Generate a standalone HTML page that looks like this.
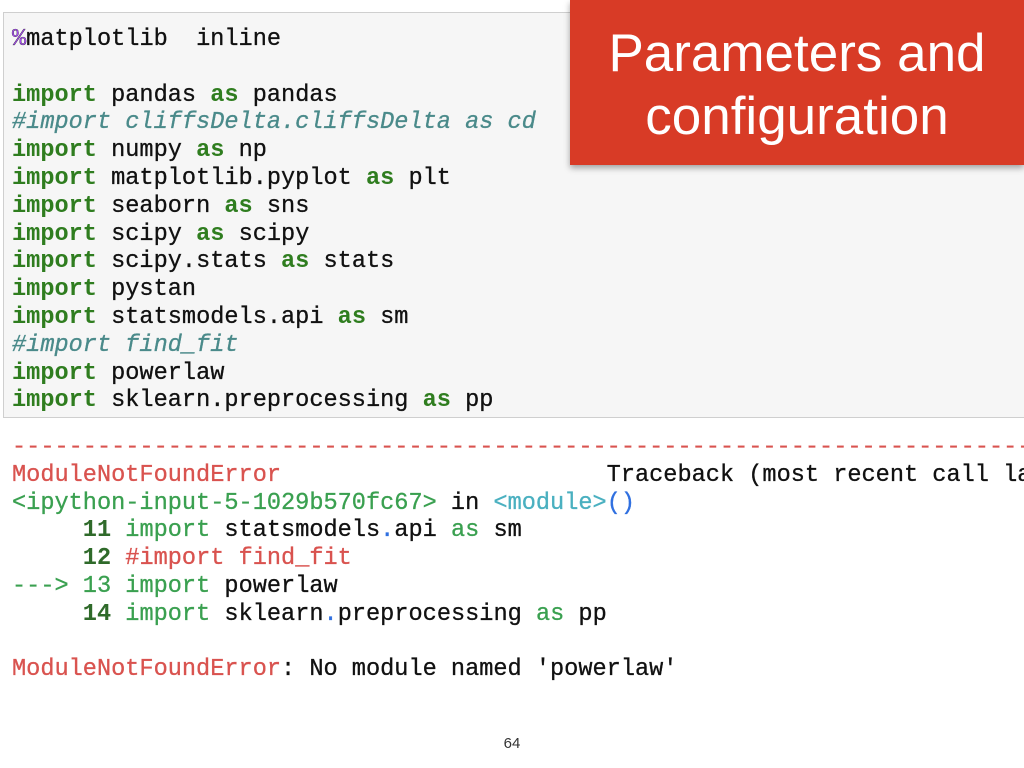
<!DOCTYPE html>
<html><head><meta charset="utf-8"><style>
body{margin:0;width:1024px;height:768px;background:#fff;position:relative;overflow:hidden;font-family:"Liberation Mono",monospace;}
.code{position:absolute;left:3px;top:12px;width:1030px;height:406px;background:#f6f6f6;border:1px solid #cfcfcf;box-sizing:border-box;}
pre{margin:0;position:absolute;font-family:"Liberation Mono",monospace;font-size:23.6px;line-height:27.8px;color:#111;white-space:pre;-webkit-text-stroke:0.3px #111;}
.k{color:#2f7d1f;font-weight:bold;-webkit-text-stroke:0}.c{color:#4a8a8a;font-style:italic;-webkit-text-stroke:0.3px #4a8a8a}.m{color:#a64cf0}
.r{color:#d9534f;-webkit-text-stroke:0.3px #d9534f}.g{color:#3aa050;-webkit-text-stroke:0.3px #3aa050}.gb{color:#2f6a2a;font-weight:bold;-webkit-text-stroke:0}.cy{color:#4ab0c0;-webkit-text-stroke:0.3px #4ab0c0}.b{color:#3070e0;-webkit-text-stroke:0.3px #3070e0}
.red{position:absolute;left:570px;top:0;width:454px;height:165px;background:#d83b26;box-shadow:0 3px 6px rgba(0,0,0,.35);color:#fff;font-family:"Liberation Sans",sans-serif;font-size:53px;line-height:63px;text-align:center;padding-top:22px;box-sizing:border-box;}
.pn{position:absolute;left:0;width:1024px;top:735px;text-align:center;font-family:"Liberation Sans",sans-serif;font-size:15px;color:#333}
</style></head><body>
<div class="code"></div>
<pre style="left:12px;top:26px"><span class="m">%</span>matplotlib  inline

<span class="k">import</span> pandas <span class="k">as</span> pandas
<span class="c">#import cliffsDelta.cliffsDelta as cd</span>
<span class="k">import</span> numpy <span class="k">as</span> np
<span class="k">import</span> matplotlib.pyplot <span class="k">as</span> plt
<span class="k">import</span> seaborn <span class="k">as</span> sns
<span class="k">import</span> scipy <span class="k">as</span> scipy
<span class="k">import</span> scipy.stats <span class="k">as</span> stats
<span class="k">import</span> pystan
<span class="k">import</span> statsmodels.api <span class="k">as</span> sm
<span class="c">#import find_fit</span>
<span class="k">import</span> powerlaw
<span class="k">import</span> sklearn.preprocessing <span class="k">as</span> pp</pre>
<div class="red">Parameters and<br>configuration</div>
<pre style="left:12px;top:434px"><span class="r">---------------------------------------------------------------------------</span>
<span class="r">ModuleNotFoundError</span>                       Traceback (most recent call last)
<span class="g">&lt;ipython-input-5-1029b570fc67&gt;</span> in <span class="cy">&lt;module&gt;</span><span class="b">()</span>
     <span class="gb">11</span> <span class="g">import</span> statsmodels<span class="b">.</span>api <span class="g">as</span> sm
     <span class="gb">12</span> <span class="r">#import find_fit</span>
<span class="g">---&gt; 13</span> <span class="g">import</span> powerlaw
     <span class="gb">14</span> <span class="g">import</span> sklearn<span class="b">.</span>preprocessing <span class="g">as</span> pp

<span class="r">ModuleNotFoundError</span>: No module named 'powerlaw'</pre>
<div class="pn">64</div>
</body></html>
